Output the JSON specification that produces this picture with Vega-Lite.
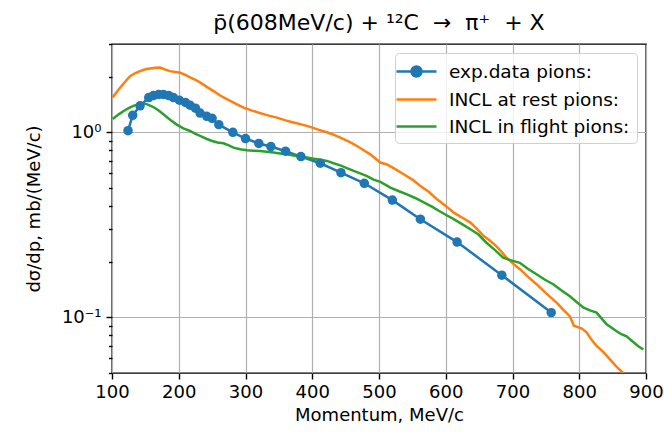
{
  "$schema": "https://vega.github.io/schema/vega-lite/v6.json",
  "autosize": {"type": "none"},
  "padding": {"left": 112, "top": 44, "right": 18, "bottom": 62},
  "width": 534,
  "height": 329,
  "background": "white",
  "title": {"text": "p̄(608MeV/c) + ¹²C\u00a0 →\u00a0 π⁺\u00a0 + X", "font": "DejaVu Sans", "fontSize": 22, "fontWeight": "normal", "color": "#000000", "anchor": "middle", "offset": 8},
  "config": {
    "view": {"stroke": "#000000", "strokeWidth": 1.4},
    "axis": {"domain": false, "labelFont": "DejaVu Sans", "titleFont": "DejaVu Sans", "labelFontSize": 18, "titleFontSize": 18, "titleFontWeight": "normal", "labelColor": "#000000", "titleColor": "#000000", "tickColor": "#000000", "tickWidth": 1.4, "gridColor": "#b0b0b0", "gridWidth": 1.2}
  },
  "datasets": {
    "main": [
      {"p": 124, "v": 1.02, "s": "exp.data pions:"},
      {"p": 131, "v": 1.235, "s": "exp.data pions:"},
      {"p": 142, "v": 1.39, "s": "exp.data pions:"},
      {"p": 155, "v": 1.54, "s": "exp.data pions:"},
      {"p": 162, "v": 1.58, "s": "exp.data pions:"},
      {"p": 170, "v": 1.6, "s": "exp.data pions:"},
      {"p": 177, "v": 1.6, "s": "exp.data pions:"},
      {"p": 185, "v": 1.58, "s": "exp.data pions:"},
      {"p": 192, "v": 1.54, "s": "exp.data pions:"},
      {"p": 201, "v": 1.49, "s": "exp.data pions:"},
      {"p": 210, "v": 1.45, "s": "exp.data pions:"},
      {"p": 217, "v": 1.4, "s": "exp.data pions:"},
      {"p": 225, "v": 1.35, "s": "exp.data pions:"},
      {"p": 232, "v": 1.27, "s": "exp.data pions:"},
      {"p": 242, "v": 1.22, "s": "exp.data pions:"},
      {"p": 250, "v": 1.19, "s": "exp.data pions:"},
      {"p": 260, "v": 1.1, "s": "exp.data pions:"},
      {"p": 281, "v": 1.0, "s": "exp.data pions:"},
      {"p": 300, "v": 0.925, "s": "exp.data pions:"},
      {"p": 320, "v": 0.87, "s": "exp.data pions:"},
      {"p": 338, "v": 0.837, "s": "exp.data pions:"},
      {"p": 360, "v": 0.79, "s": "exp.data pions:"},
      {"p": 383, "v": 0.739, "s": "exp.data pions:"},
      {"p": 412, "v": 0.68, "s": "exp.data pions:"},
      {"p": 443, "v": 0.605, "s": "exp.data pions:"},
      {"p": 478, "v": 0.53, "s": "exp.data pions:"},
      {"p": 520, "v": 0.43, "s": "exp.data pions:"},
      {"p": 562, "v": 0.339, "s": "exp.data pions:"},
      {"p": 617, "v": 0.255, "s": "exp.data pions:"},
      {"p": 684, "v": 0.169, "s": "exp.data pions:"},
      {"p": 758, "v": 0.106, "s": "exp.data pions:"},

      {"p": 101, "v": 1.54, "s": "INCL at rest pions:"},
      {"p": 107, "v": 1.65, "s": "INCL at rest pions:"},
      {"p": 112, "v": 1.74, "s": "INCL at rest pions:"},
      {"p": 120, "v": 1.88, "s": "INCL at rest pions:"},
      {"p": 127, "v": 2.01, "s": "INCL at rest pions:"},
      {"p": 135, "v": 2.09, "s": "INCL at rest pions:"},
      {"p": 142, "v": 2.14, "s": "INCL at rest pions:"},
      {"p": 150, "v": 2.19, "s": "INCL at rest pions:"},
      {"p": 157, "v": 2.21, "s": "INCL at rest pions:"},
      {"p": 165, "v": 2.23, "s": "INCL at rest pions:"},
      {"p": 172, "v": 2.24, "s": "INCL at rest pions:"},
      {"p": 180, "v": 2.18, "s": "INCL at rest pions:"},
      {"p": 187, "v": 2.14, "s": "INCL at rest pions:"},
      {"p": 195, "v": 2.12, "s": "INCL at rest pions:"},
      {"p": 202, "v": 2.1, "s": "INCL at rest pions:"},
      {"p": 210, "v": 2.04, "s": "INCL at rest pions:"},
      {"p": 217, "v": 1.98, "s": "INCL at rest pions:"},
      {"p": 225, "v": 1.92, "s": "INCL at rest pions:"},
      {"p": 232, "v": 1.86, "s": "INCL at rest pions:"},
      {"p": 242, "v": 1.76, "s": "INCL at rest pions:"},
      {"p": 252, "v": 1.67, "s": "INCL at rest pions:"},
      {"p": 262, "v": 1.58, "s": "INCL at rest pions:"},
      {"p": 272, "v": 1.51, "s": "INCL at rest pions:"},
      {"p": 285, "v": 1.43, "s": "INCL at rest pions:"},
      {"p": 297, "v": 1.36, "s": "INCL at rest pions:"},
      {"p": 310, "v": 1.31, "s": "INCL at rest pions:"},
      {"p": 322, "v": 1.27, "s": "INCL at rest pions:"},
      {"p": 335, "v": 1.23, "s": "INCL at rest pions:"},
      {"p": 347, "v": 1.2, "s": "INCL at rest pions:"},
      {"p": 360, "v": 1.16, "s": "INCL at rest pions:"},
      {"p": 372, "v": 1.13, "s": "INCL at rest pions:"},
      {"p": 385, "v": 1.1, "s": "INCL at rest pions:"},
      {"p": 397, "v": 1.07, "s": "INCL at rest pions:"},
      {"p": 410, "v": 1.03, "s": "INCL at rest pions:"},
      {"p": 422, "v": 1.0, "s": "INCL at rest pions:"},
      {"p": 432, "v": 0.97, "s": "INCL at rest pions:"},
      {"p": 442, "v": 0.936, "s": "INCL at rest pions:"},
      {"p": 455, "v": 0.89, "s": "INCL at rest pions:"},
      {"p": 467, "v": 0.843, "s": "INCL at rest pions:"},
      {"p": 477, "v": 0.8, "s": "INCL at rest pions:"},
      {"p": 487, "v": 0.76, "s": "INCL at rest pions:"},
      {"p": 495, "v": 0.72, "s": "INCL at rest pions:"},
      {"p": 502, "v": 0.686, "s": "INCL at rest pions:"},
      {"p": 512, "v": 0.67, "s": "INCL at rest pions:"},
      {"p": 525, "v": 0.63, "s": "INCL at rest pions:"},
      {"p": 537, "v": 0.593, "s": "INCL at rest pions:"},
      {"p": 550, "v": 0.555, "s": "INCL at rest pions:"},
      {"p": 562, "v": 0.513, "s": "INCL at rest pions:"},
      {"p": 575, "v": 0.475, "s": "INCL at rest pions:"},
      {"p": 587, "v": 0.434, "s": "INCL at rest pions:"},
      {"p": 600, "v": 0.4, "s": "INCL at rest pions:"},
      {"p": 612, "v": 0.368, "s": "INCL at rest pions:"},
      {"p": 625, "v": 0.345, "s": "INCL at rest pions:"},
      {"p": 637, "v": 0.325, "s": "INCL at rest pions:"},
      {"p": 647, "v": 0.3, "s": "INCL at rest pions:"},
      {"p": 657, "v": 0.275, "s": "INCL at rest pions:"},
      {"p": 666, "v": 0.26, "s": "INCL at rest pions:"},
      {"p": 676, "v": 0.242, "s": "INCL at rest pions:"},
      {"p": 684, "v": 0.225, "s": "INCL at rest pions:"},
      {"p": 691, "v": 0.21, "s": "INCL at rest pions:"},
      {"p": 701, "v": 0.195, "s": "INCL at rest pions:"},
      {"p": 711, "v": 0.182, "s": "INCL at rest pions:"},
      {"p": 723, "v": 0.166, "s": "INCL at rest pions:"},
      {"p": 736, "v": 0.151, "s": "INCL at rest pions:"},
      {"p": 750, "v": 0.135, "s": "INCL at rest pions:"},
      {"p": 766, "v": 0.12, "s": "INCL at rest pions:"},
      {"p": 776, "v": 0.11, "s": "INCL at rest pions:"},
      {"p": 786, "v": 0.101, "s": "INCL at rest pions:"},
      {"p": 792, "v": 0.09, "s": "INCL at rest pions:"},
      {"p": 804, "v": 0.087, "s": "INCL at rest pions:"},
      {"p": 811, "v": 0.083, "s": "INCL at rest pions:"},
      {"p": 818, "v": 0.076, "s": "INCL at rest pions:"},
      {"p": 826, "v": 0.07, "s": "INCL at rest pions:"},
      {"p": 836, "v": 0.065, "s": "INCL at rest pions:"},
      {"p": 846, "v": 0.0593, "s": "INCL at rest pions:"},
      {"p": 856, "v": 0.054, "s": "INCL at rest pions:"},
      {"p": 866, "v": 0.05, "s": "INCL at rest pions:"},
      {"p": 872, "v": 0.047, "s": "INCL at rest pions:"},

      {"p": 101, "v": 1.18, "s": "INCL in flight pions:"},
      {"p": 110, "v": 1.25, "s": "INCL in flight pions:"},
      {"p": 117, "v": 1.3, "s": "INCL in flight pions:"},
      {"p": 125, "v": 1.35, "s": "INCL in flight pions:"},
      {"p": 132, "v": 1.39, "s": "INCL in flight pions:"},
      {"p": 140, "v": 1.42, "s": "INCL in flight pions:"},
      {"p": 145, "v": 1.43, "s": "INCL in flight pions:"},
      {"p": 152, "v": 1.42, "s": "INCL in flight pions:"},
      {"p": 162, "v": 1.37, "s": "INCL in flight pions:"},
      {"p": 170, "v": 1.31, "s": "INCL in flight pions:"},
      {"p": 177, "v": 1.25, "s": "INCL in flight pions:"},
      {"p": 187, "v": 1.17, "s": "INCL in flight pions:"},
      {"p": 197, "v": 1.1, "s": "INCL in flight pions:"},
      {"p": 207, "v": 1.05, "s": "INCL in flight pions:"},
      {"p": 217, "v": 1.016, "s": "INCL in flight pions:"},
      {"p": 225, "v": 0.98, "s": "INCL in flight pions:"},
      {"p": 232, "v": 0.955, "s": "INCL in flight pions:"},
      {"p": 242, "v": 0.92, "s": "INCL in flight pions:"},
      {"p": 250, "v": 0.897, "s": "INCL in flight pions:"},
      {"p": 258, "v": 0.88, "s": "INCL in flight pions:"},
      {"p": 267, "v": 0.872, "s": "INCL in flight pions:"},
      {"p": 275, "v": 0.85, "s": "INCL in flight pions:"},
      {"p": 282, "v": 0.826, "s": "INCL in flight pions:"},
      {"p": 292, "v": 0.81, "s": "INCL in flight pions:"},
      {"p": 302, "v": 0.799, "s": "INCL in flight pions:"},
      {"p": 312, "v": 0.795, "s": "INCL in flight pions:"},
      {"p": 322, "v": 0.792, "s": "INCL in flight pions:"},
      {"p": 332, "v": 0.785, "s": "INCL in flight pions:"},
      {"p": 342, "v": 0.777, "s": "INCL in flight pions:"},
      {"p": 352, "v": 0.768, "s": "INCL in flight pions:"},
      {"p": 362, "v": 0.76, "s": "INCL in flight pions:"},
      {"p": 372, "v": 0.75, "s": "INCL in flight pions:"},
      {"p": 382, "v": 0.739, "s": "INCL in flight pions:"},
      {"p": 392, "v": 0.73, "s": "INCL in flight pions:"},
      {"p": 402, "v": 0.72, "s": "INCL in flight pions:"},
      {"p": 412, "v": 0.71, "s": "INCL in flight pions:"},
      {"p": 422, "v": 0.7, "s": "INCL in flight pions:"},
      {"p": 432, "v": 0.68, "s": "INCL in flight pions:"},
      {"p": 442, "v": 0.663, "s": "INCL in flight pions:"},
      {"p": 452, "v": 0.64, "s": "INCL in flight pions:"},
      {"p": 462, "v": 0.618, "s": "INCL in flight pions:"},
      {"p": 472, "v": 0.6, "s": "INCL in flight pions:"},
      {"p": 482, "v": 0.58, "s": "INCL in flight pions:"},
      {"p": 492, "v": 0.555, "s": "INCL in flight pions:"},
      {"p": 502, "v": 0.54, "s": "INCL in flight pions:"},
      {"p": 510, "v": 0.52, "s": "INCL in flight pions:"},
      {"p": 517, "v": 0.502, "s": "INCL in flight pions:"},
      {"p": 530, "v": 0.48, "s": "INCL in flight pions:"},
      {"p": 542, "v": 0.462, "s": "INCL in flight pions:"},
      {"p": 555, "v": 0.44, "s": "INCL in flight pions:"},
      {"p": 567, "v": 0.418, "s": "INCL in flight pions:"},
      {"p": 580, "v": 0.395, "s": "INCL in flight pions:"},
      {"p": 592, "v": 0.372, "s": "INCL in flight pions:"},
      {"p": 602, "v": 0.355, "s": "INCL in flight pions:"},
      {"p": 612, "v": 0.339, "s": "INCL in flight pions:"},
      {"p": 625, "v": 0.318, "s": "INCL in flight pions:"},
      {"p": 637, "v": 0.299, "s": "INCL in flight pions:"},
      {"p": 649, "v": 0.28, "s": "INCL in flight pions:"},
      {"p": 661, "v": 0.253, "s": "INCL in flight pions:"},
      {"p": 673, "v": 0.232, "s": "INCL in flight pions:"},
      {"p": 686, "v": 0.21, "s": "INCL in flight pions:"},
      {"p": 698, "v": 0.203, "s": "INCL in flight pions:"},
      {"p": 711, "v": 0.197, "s": "INCL in flight pions:"},
      {"p": 723, "v": 0.183, "s": "INCL in flight pions:"},
      {"p": 736, "v": 0.171, "s": "INCL in flight pions:"},
      {"p": 748, "v": 0.16, "s": "INCL in flight pions:"},
      {"p": 761, "v": 0.151, "s": "INCL in flight pions:"},
      {"p": 773, "v": 0.14, "s": "INCL in flight pions:"},
      {"p": 786, "v": 0.13, "s": "INCL in flight pions:"},
      {"p": 796, "v": 0.121, "s": "INCL in flight pions:"},
      {"p": 806, "v": 0.113, "s": "INCL in flight pions:"},
      {"p": 816, "v": 0.109, "s": "INCL in flight pions:"},
      {"p": 826, "v": 0.106, "s": "INCL in flight pions:"},
      {"p": 834, "v": 0.098, "s": "INCL in flight pions:"},
      {"p": 841, "v": 0.0917, "s": "INCL in flight pions:"},
      {"p": 848, "v": 0.088, "s": "INCL in flight pions:"},
      {"p": 856, "v": 0.084, "s": "INCL in flight pions:"},
      {"p": 863, "v": 0.081, "s": "INCL in flight pions:"},
      {"p": 871, "v": 0.079, "s": "INCL in flight pions:"},
      {"p": 880, "v": 0.074, "s": "INCL in flight pions:"},
      {"p": 888, "v": 0.07, "s": "INCL in flight pions:"},
      {"p": 896, "v": 0.067, "s": "INCL in flight pions:"}
    ]
  },
  "data": {"name": "main"},
  "encoding": {
    "x": {"field": "p", "type": "quantitative", "scale": {"domain": [100, 900], "nice": false, "zero": false},
      "axis": {"title": "Momentum, MeV/c", "values": [100, 200, 300, 400, 500, 600, 700, 800, 900], "tickSize": 6, "labelPadding": 4, "titlePadding": 5, "grid": true, "labelFlush": false}},
    "y": {"field": "v", "type": "quantitative", "scale": {"type": "log", "domain": [0.05, 3.0], "nice": false},
      "axis": {"title": "dσ/dp, mb/(MeV/c)", "values": [0.05, 0.06, 0.07, 0.08, 0.09, 0.1, 0.2, 0.3, 0.4, 0.5, 0.6, 0.7, 0.8, 0.9, 1, 2, 3],
        "labelExpr": "datum.value == 1 ? '10⁰' : (datum.value == 0.1 ? '10⁻¹' : '')",
        "tickSize": {"condition": {"test": "datum.value == 1 || datum.value == 0.1", "value": 6}, "value": 3.5},
        "gridOpacity": {"condition": {"test": "datum.value == 1 || datum.value == 0.1", "value": 1}, "value": 0},
        "grid": true, "labelPadding": 5, "titlePadding": 18, "labelFlush": false}},
    "color": {"field": "s", "type": "nominal",
      "scale": {"domain": ["exp.data pions:", "INCL at rest pions:", "INCL in flight pions:"], "range": ["#1f77b4", "#ff7f0e", "#2ca02c"]},
      "legend": {"title": null, "orient": "top-right", "offset": 9, "labelFont": "DejaVu Sans", "labelFontSize": 18.5, "labelColor": "#000000", "labelLimit": 400,
        "symbolSize": 400, "symbolStrokeWidth": 2.5, "symbolOffset": 3, "labelOffset": 21, "rowPadding": 6, "padding": 7,
        "fillColor": "rgba(255,255,255,0.8)", "strokeColor": "#d0d0d0", "cornerRadius": 4,
        "encode": {"symbols": {"update": {
          "shape": {"signal": "datum.value == 'exp.data pions:' ? 'M-2,0H2M0.5,0A0.5,0.5 0 1,1 -0.5,0A0.5,0.5 0 1,1 0.5,0Z' : 'M-2,0H2'"},
          "fill": {"signal": "datum.value == 'exp.data pions:' ? '#1f77b4' : 'transparent'"},
          "stroke": {"signal": "datum.value == 'exp.data pions:' ? '#1f77b4' : (datum.value == 'INCL at rest pions:' ? '#ff7f0e' : '#2ca02c')"},
          "strokeWidth": {"value": 2.5},
          "opacity": {"value": 1}
        }}}}}
  },
  "layer": [
    {"mark": {"type": "line", "strokeWidth": 2.5, "clip": true}},
    {"transform": [{"filter": "datum.s == 'exp.data pions:'"}], "mark": {"type": "point", "filled": true, "size": 90, "opacity": 1, "clip": true}}
  ]
}
